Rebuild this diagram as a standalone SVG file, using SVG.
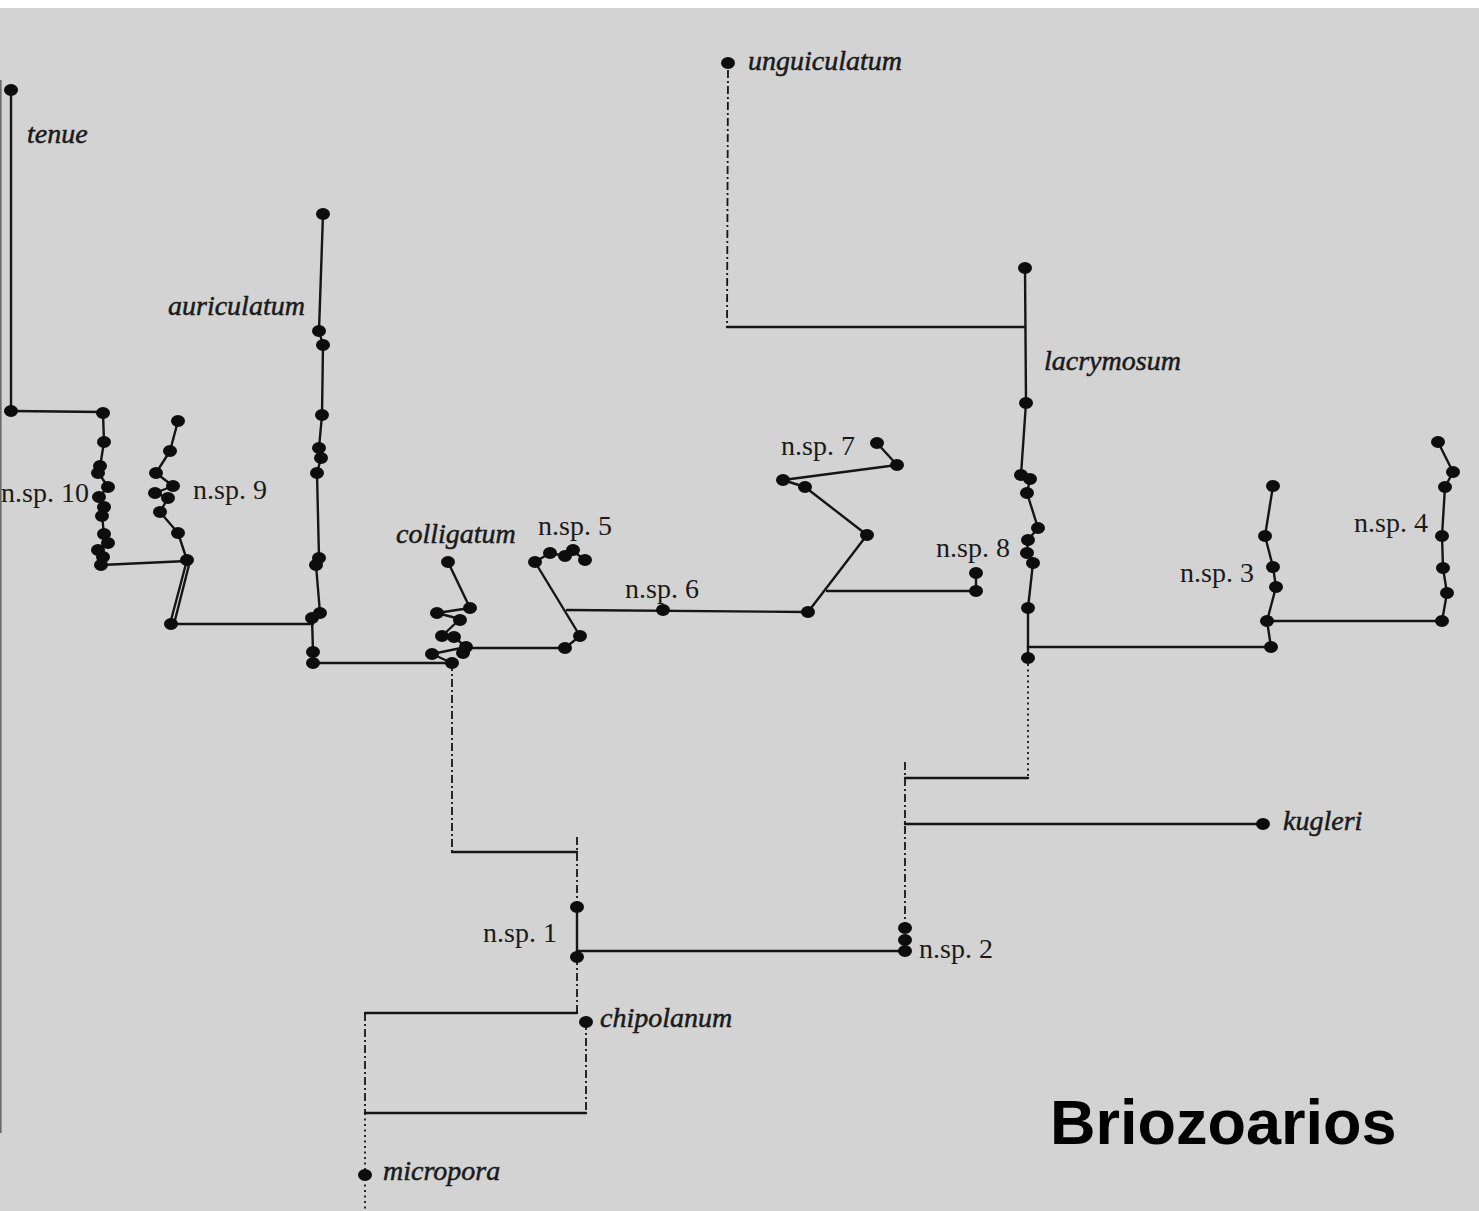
<svg xmlns="http://www.w3.org/2000/svg" width="1479" height="1211" viewBox="0 0 1479 1211">
<style>
.ln{fill:none;stroke:#151515;stroke-width:2.4;stroke-linejoin:round;stroke-linecap:round}
.dash{fill:none;stroke:#151515;stroke-width:1.8;stroke-dasharray:8 3 2 3}
.dot{fill:none;stroke:#151515;stroke-width:1.8;stroke-dasharray:2 3.5}
.nd{fill:#0d0d0d}
.it{font-family:"Liberation Serif",serif;font-style:italic;font-size:28px;fill:#1a1a1a;stroke:#1a1a1a;stroke-width:0.5}
.rm{font-family:"Liberation Serif",serif;font-size:28px;fill:#1a1a1a}
</style>
<defs>
<ellipse id="d" cx="0" cy="0" rx="7" ry="6"/>
</defs>
<rect x="0" y="0" width="1479" height="1211" fill="#d3d3d3"/>
<rect x="0" y="0" width="1479" height="8" fill="#ffffff"/>
<line x1="0.8" y1="80" x2="0.8" y2="1133" stroke="#6a6a6a" stroke-width="1.6"/>

<g id="connectors">
<polyline class="ln" points="11,411 103,412"/>
<polyline class="ln" points="101,565 187,561"/>
<polyline class="ln" points="187,560 170,624"/>
<polyline class="ln" points="190,561 174,624" stroke-width="1.3"/>
<polyline class="ln" points="170,624 313,624"/>
<polyline class="ln" points="313,663 452,663"/>
<polyline class="ln" points="466,648 565,648"/>
<polyline class="ln" points="567,610 808,612"/>
<polyline class="ln" points="827,591 976,591"/>
<polyline class="ln" points="727,327 1025,327"/>
<polyline class="dash" points="728,70 727,327"/>
<polyline class="ln" points="1028,647 1271,647"/>
<polyline class="ln" points="1267,621 1442,621"/>
<polyline class="dot" points="1028,664 1028,778"/>
<polyline class="ln" points="905,778 1028,778"/>
<polyline class="dash" points="905,762 905,925"/>
<polyline class="ln" points="905,824 1257,824"/>
<polyline class="ln" points="577,951 905,951"/>
<polyline class="dash" points="452,663 452,852"/>
<polyline class="ln" points="452,852 577,852"/>
<polyline class="dash" points="577,837 577,907"/>
<polyline class="ln" points="577,907 577,957"/>
<polyline class="dash" points="577,957 577,1013"/>
<polyline class="ln" points="365,1013 577,1013"/>
<polyline class="dash" points="586,1022 586,1113"/>
<polyline class="ln" points="365,1113 586,1113"/>
<polyline class="dash" points="365,1013 365,1113"/>
<polyline class="dot" points="365,1113 365,1211"/>
</g>

<g id="tenue">
<polyline class="ln" points="11,90 11,411"/>
<use href="#d" x="11" y="90" class="nd"/><use href="#d" x="11" y="411" class="nd"/>
<text class="it" x="27" y="143">tenue</text>
</g>

<g id="nsp10">
<polyline class="ln" points="103,413 104,442 100,467 98,472 108,487 99,497 104,507 102,515 104,535 108,543 98,550 103,557 101,565"/>
<g class="nd"><use href="#d" x="103" y="413"/><use href="#d" x="104" y="442"/><use href="#d" x="100" y="466"/><use href="#d" x="98" y="473"/><use href="#d" x="108" y="487"/><use href="#d" x="99" y="497"/><use href="#d" x="104" y="507"/><use href="#d" x="102" y="516"/><use href="#d" x="104" y="534"/><use href="#d" x="108" y="543"/><use href="#d" x="98" y="550"/><use href="#d" x="103" y="557"/><use href="#d" x="101" y="565"/></g>
<text class="rm" x="1" y="502">n.sp. 10</text>
</g>

<g id="nsp9">
<polyline class="ln" points="178,421 170,451 156,473 173,486 155,493 168,498 160,512 178,533 187,560"/>
<g class="nd"><use href="#d" x="178" y="421"/><use href="#d" x="170" y="451"/><use href="#d" x="156" y="473"/><use href="#d" x="173" y="486"/><use href="#d" x="155" y="493"/><use href="#d" x="168" y="498"/><use href="#d" x="160" y="512"/><use href="#d" x="178" y="533"/><use href="#d" x="187" y="560"/><use href="#d" x="171" y="624"/></g>
<text class="rm" x="193" y="499">n.sp. 9</text>
</g>

<g id="auriculatum">
<polyline class="ln" points="323,214 319,331 323,345 322,415 319,448 321,458 317,473 319,558 316,565 320,613 312,617 313,652 313,663"/>
<g class="nd"><use href="#d" x="323" y="214"/><use href="#d" x="319" y="331"/><use href="#d" x="323" y="345"/><use href="#d" x="322" y="415"/><use href="#d" x="319" y="448"/><use href="#d" x="321" y="458"/><use href="#d" x="317" y="473"/><use href="#d" x="319" y="558"/><use href="#d" x="316" y="565"/><use href="#d" x="320" y="613"/><use href="#d" x="312" y="618"/><use href="#d" x="313" y="652"/><use href="#d" x="313" y="663"/></g>
<text class="it" x="168" y="315">auriculatum</text>
</g>

<g id="colligatum">
<polyline class="ln" points="448,562 470,608 437,613 460,619 442,636 454,637 466,647 432,654 452,663"/>
<g class="nd"><use href="#d" x="448" y="562"/><use href="#d" x="470" y="608"/><use href="#d" x="437" y="613"/><use href="#d" x="460" y="620"/><use href="#d" x="442" y="636"/><use href="#d" x="454" y="637"/><use href="#d" x="466" y="647"/><use href="#d" x="463" y="653"/><use href="#d" x="432" y="654"/><use href="#d" x="452" y="663"/></g>
<text class="it" x="396" y="543">colligatum</text>
</g>

<g id="nsp5">
<polyline class="ln" points="565,648 580,636 535,562 550,553 565,556 573,551 585,560"/>
<g class="nd"><use href="#d" x="565" y="648"/><use href="#d" x="580" y="636"/><use href="#d" x="535" y="562"/><use href="#d" x="550" y="553"/><use href="#d" x="565" y="556"/><use href="#d" x="573" y="550"/><use href="#d" x="585" y="560"/></g>
<text class="rm" x="538" y="535">n.sp. 5</text>
</g>

<g id="nsp6">
<use href="#d" x="663" y="610" class="nd"/>
<text class="rm" x="625" y="598">n.sp. 6</text>
</g>

<g id="nsp7">
<polyline class="ln" points="808,612 867,535 805,487 783,480 897,465 877,443"/>
<g class="nd"><use href="#d" x="808" y="612"/><use href="#d" x="867" y="535"/><use href="#d" x="805" y="487"/><use href="#d" x="783" y="480"/><use href="#d" x="897" y="465"/><use href="#d" x="877" y="443"/></g>
<text class="rm" x="781" y="455">n.sp. 7</text>
</g>

<g id="nsp8">
<polyline class="ln" points="976,573 976,591"/>
<g class="nd"><use href="#d" x="976" y="573"/><use href="#d" x="976" y="591"/></g>
<text class="rm" x="936" y="557">n.sp. 8</text>
</g>

<g id="unguiculatum">
<use href="#d" x="728" y="63" class="nd"/>
<text class="it" x="748" y="70">unguiculatum</text>
</g>

<g id="lacrymosum">
<polyline class="ln" points="1025,268 1026,403 1021,475 1030,479 1027,493 1038,528 1028,540 1027,553 1033,563 1028,608 1028,658"/>
<g class="nd"><use href="#d" x="1025" y="268"/><use href="#d" x="1026" y="403"/><use href="#d" x="1021" y="475"/><use href="#d" x="1030" y="479"/><use href="#d" x="1027" y="493"/><use href="#d" x="1038" y="528"/><use href="#d" x="1028" y="540"/><use href="#d" x="1027" y="553"/><use href="#d" x="1033" y="563"/><use href="#d" x="1028" y="608"/><use href="#d" x="1028" y="658"/></g>
<text class="it" x="1044" y="370">lacrymosum</text>
</g>

<g id="nsp3">
<polyline class="ln" points="1273,486 1265,536 1273,567 1276,587 1267,621 1271,647"/>
<g class="nd"><use href="#d" x="1273" y="486"/><use href="#d" x="1265" y="536"/><use href="#d" x="1273" y="567"/><use href="#d" x="1276" y="587"/><use href="#d" x="1267" y="621"/><use href="#d" x="1271" y="647"/></g>
<text class="rm" x="1180" y="582">n.sp. 3</text>
</g>

<g id="nsp4">
<polyline class="ln" points="1438,442 1453,472 1445,487 1442,536 1443,568 1447,593 1442,621"/>
<g class="nd"><use href="#d" x="1438" y="442"/><use href="#d" x="1453" y="472"/><use href="#d" x="1445" y="487"/><use href="#d" x="1442" y="536"/><use href="#d" x="1443" y="568"/><use href="#d" x="1447" y="593"/><use href="#d" x="1442" y="621"/></g>
<text class="rm" x="1354" y="532">n.sp. 4</text>
</g>

<g id="kugleri">
<use href="#d" x="1263" y="824" class="nd"/>
<text class="it" x="1283" y="830">kugleri</text>
</g>

<g id="nsp2">
<g class="nd"><use href="#d" x="905" y="928"/><use href="#d" x="905" y="940"/><use href="#d" x="905" y="951"/></g>
<text class="rm" x="919" y="958">n.sp. 2</text>
</g>

<g id="nsp1">
<g class="nd"><use href="#d" x="577" y="907"/><use href="#d" x="577" y="957"/></g>
<text class="rm" x="483" y="942">n.sp. 1</text>
</g>

<g id="chipolanum">
<use href="#d" x="586" y="1022" class="nd"/>
<text class="it" x="600" y="1027">chipolanum</text>
</g>

<g id="micropora">
<use href="#d" x="365" y="1175" class="nd"/>
<text class="it" x="383" y="1180">micropora</text>
</g>

<text x="1050" y="1144" font-family="'Liberation Sans',Arial,sans-serif" font-weight="bold" font-size="63" fill="#000">Briozoarios</text>
</svg>
